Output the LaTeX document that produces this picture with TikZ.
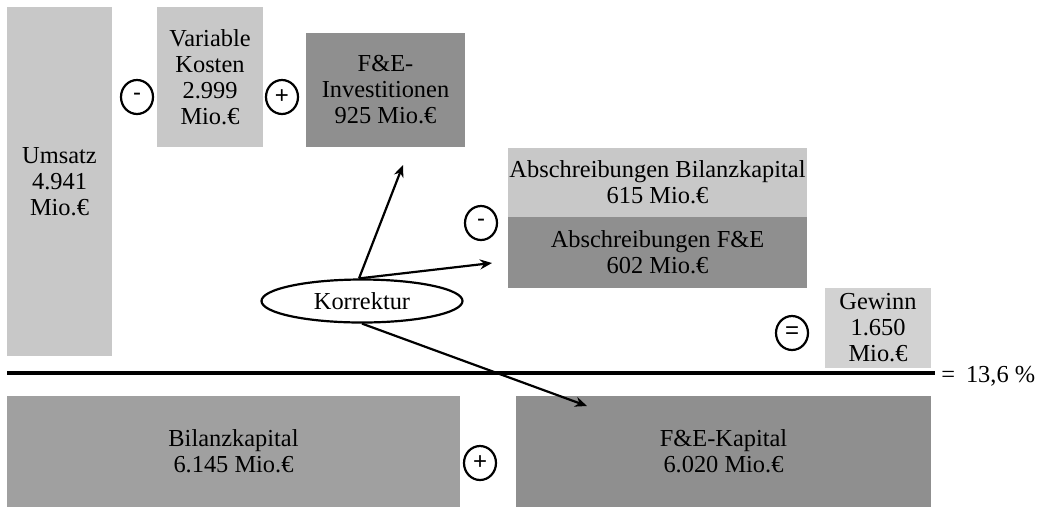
\documentclass[tikz,border=0pt]{standalone}
\usepackage{fontspec}
\setmainfont{Liberation Serif}
\newfontfamily\signfont{Liberation Sans}
\usetikzlibrary{shapes.geometric, arrows.meta, positioning}
\definecolor{lightbox}{RGB}{200,200,200}
\definecolor{gainbox}{RGB}{210,210,210}
\definecolor{midbox}{RGB}{160,160,160}
\definecolor{darkbox}{RGB}{143,143,143}
\tikzset{
  box/.style={rectangle, inner sep=0pt, align=center,
    font=\fontsize{12.2}{13}\selectfont},
  opsign/.style={ellipse, draw, line width=1.1pt, minimum width=16pt,
    minimum height=17pt, inner sep=0pt, font=\signfont\fontsize{12}{12}\selectfont},
  arrow/.style={-{Stealth[length=6pt,width=5pt]}, line width=1.1pt},
  bar/.style={line width=2pt}
}

\begin{document}
\begin{tikzpicture}[x=0.5pt, y=-0.5pt]
  \useasboundingbox (0,0) rectangle (1047,521);

  % Top row
  \node[box, fill=lightbox, minimum width=52.5pt, minimum height=174.5pt] (umsatz) at (59.5,181.5) {Umsatz\\4.941\\Mio.€};
  \node[opsign] (minus1) at (137,97) {-};
  \node[box, fill=lightbox, minimum width=53pt, minimum height=70pt] (varkost) at (210,77) {Variable\\Kosten\\2.999\\Mio.€};
  \node[opsign] (plus1) at (282,97) {+};
  \node[box, fill=darkbox, minimum width=79.5pt, minimum height=57pt] (feinv) at (385.5,90) {F\&E-\\Investitionen\\925 Mio.€};

  % Depreciation
  \node[opsign] (minus2) at (481,223) {-};
  \node[box, fill=lightbox, minimum width=149.5pt, minimum height=34.5pt] (abbil) at (657.5,182.5) {Abschreibungen Bilanzkapital\\615 Mio.€};
  \node[box, fill=darkbox, minimum width=149.5pt, minimum height=35.5pt] (abfe) at (657.5,252.5) {Abschreibungen F\&E\\602 Mio.€};

  % Profit
  \node[opsign] (equal) at (792,333) {=};
  \node[box, fill=gainbox, minimum width=53pt, minimum height=40pt] (gewinn) at (878,328) {Gewinn\\1.650\\Mio.€};

  % Fraction bar
  \coordinate (barL) at (7,373);
  \coordinate (barR) at (935,373);
  \draw[bar] (barL) -- (barR);
  \node[box, anchor=west] (result) at (941,376) {=\;\,13,6 \%};

  % Capital
  \node[box, fill=midbox, minimum width=226.5pt, minimum height=55.5pt] (bilk) at (233.5,451.5) {Bilanzkapital\\6.145 Mio.€};
  \node[opsign] (plus2) at (480,463) {+};
  \node[box, fill=darkbox, minimum width=207.5pt, minimum height=55.5pt] (fek) at (723.5,451.5) {F\&E-Kapital\\6.020 Mio.€};

  % Correction
  \node[ellipse, draw, line width=1.1pt, minimum width=100.5pt, minimum height=21.5pt,
    inner sep=0pt, font=\fontsize{12.2}{13}\selectfont] (korr) at (362,301) {Korrektur};
  \coordinate (toinv) at (403,165);
  \coordinate (toabfe) at (492,263);
  \coordinate (tofek) at (587,406);
  \draw[arrow] ([xshift=-1.5pt]korr.north) -- (toinv);
  \draw[arrow] ([xshift=-1.5pt]korr.north) -- (toabfe);
  \draw[arrow] (korr.south) -- (tofek);
\end{tikzpicture}
\end{document}
